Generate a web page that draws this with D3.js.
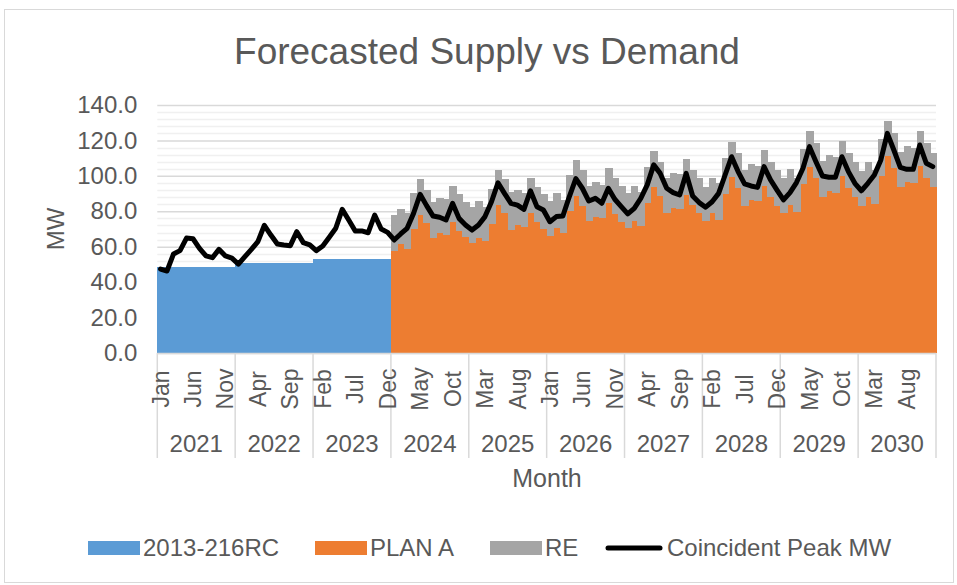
<!DOCTYPE html>
<html>
<head>
<meta charset="utf-8">
<script src="https://cdn.jsdelivr.net/npm/d3@7"></script>
<style>
  body { margin: 0; background: #fff; }
  text { font-family: "Liberation Sans", Arial, sans-serif; fill: #595959; }
</style>
</head>
<body>
<script>
const years = [2021, 2022, 2023, 2024, 2025, 2026, 2027, 2028, 2029, 2030]
const monthNames = ['Jan', 'Feb', 'Mar', 'Apr', 'May', 'Jun', 'Jul', 'Aug', 'Sep', 'Oct', 'Nov', 'Dec']
const yTicks = [0, 20, 40, 60, 80, 100, 120, 140]

// 2013-216RC supply, Jan 2021 - Dec 2023
const rcSupply = [
  48.3, 48.3, 48.3, 48.3, 48.3, 48.3, 48.3, 48.3, 48.3, 48.3, 48.3, 48.3,
  50.6, 50.6, 50.6, 50.6, 50.6, 50.6, 50.6, 50.6, 50.6, 50.6, 50.6, 50.6,
  53.1, 53.1, 53.1, 53.1, 53.1, 53.1, 53.1, 53.1, 53.1, 53.1, 53.1, 53.1
]
// PLAN A and RE, Jan 2024 - Dec 2030
const planA = [
  57.8, 61.5, 58.9, 70.0, 77.9, 73.2, 65.1, 67.5, 66.6, 73.8, 68.9, 65.3,
  61.9, 65.1, 63.2, 73.0, 83.5, 78.9, 69.4, 72.3, 71.3, 79.2, 74.1, 69.8,
  66.1, 70.4, 67.6, 80.3, 88.6, 83.0, 74.5, 77.0, 76.4, 84.5, 78.3, 74.1,
  70.4, 74.5, 71.7, 84.9, 93.9, 88.5, 78.9, 81.7, 81.1, 89.2, 83.6, 78.9,
  74.5, 78.9, 75.3, 89.8, 99.2, 93.0, 83.0, 86.6, 85.6, 94.3, 87.9, 83.0,
  78.9, 83.6, 79.8, 95.2, 105.2, 98.6, 88.3, 91.5, 90.1, 99.9, 93.0, 88.3,
  83.0, 88.3, 84.1, 99.9, 111.2, 104.3, 93.5, 96.7, 95.8, 105.6, 98.6, 93.5
]
const re = [
  20.1, 19.8, 20.0, 20.5, 20.2, 18.8, 20.3, 20.2, 20.1, 20.5, 20.7, 20.1,
  20.7, 20.7, 19.4, 19.5, 19.8, 19.2, 21.7, 19.7, 18.8, 19.8, 19.8, 19.8,
  19.9, 19.7, 18.6, 20.2, 20.4, 20.3, 20.0, 19.7, 18.5, 19.8, 20.3, 20.4,
  19.7, 20.0, 19.4, 20.3, 20.1, 19.5, 19.7, 20.1, 20.0, 20.2, 19.7, 19.7,
  19.4, 19.7, 20.9, 20.1, 20.1, 20.1, 20.5, 19.9, 19.8, 20.3, 20.1, 20.3,
  20.1, 20.1, 19.2, 19.8, 20.1, 20.1, 20.1, 20.3, 20.3, 19.8, 20.1, 19.7,
  19.9, 19.7, 19.2, 20.7, 19.8, 20.1, 20.2, 20.2, 20.1, 19.7, 20.1, 19.6
]
// Coincident Peak MW, Jan 2021 - Dec 2030
const peak = [
  47.4, 46.3, 55.9, 57.8, 64.9, 64.5, 59.1, 54.8, 53.8, 58.5, 54.8, 53.5,
  50.2, 54.4, 58.5, 62.9, 72.1, 66.6, 61.5, 61.0, 60.6, 68.5, 62.3, 61.0,
  57.8, 60.4, 65.3, 70.4, 81.1, 75.1, 68.9, 68.9, 67.9, 77.9, 70.0, 68.1,
  63.8, 67.2, 70.4, 78.9, 89.6, 83.2, 77.3, 76.6, 75.1, 84.5, 76.0, 72.3,
  69.4, 72.3, 77.0, 85.4, 96.1, 90.1, 84.5, 83.5, 81.1, 91.6, 82.6, 80.7,
  74.1, 77.0, 77.3, 88.3, 98.5, 93.0, 85.8, 87.3, 84.5, 93.0, 86.8, 82.6,
  78.5, 81.7, 87.3, 94.9, 106.2, 101.4, 93.0, 90.5, 89.2, 101.4, 88.6, 84.9,
  82.3, 85.4, 90.1, 100.5, 110.8, 102.4, 95.5, 94.3, 93.5, 105.2, 97.7, 92.0,
  86.4, 90.5, 96.2, 104.3, 116.5, 108.0, 99.9, 99.2, 99.2, 110.8, 102.4, 95.8,
  91.6, 95.8, 100.5, 109.0, 124.0, 114.6, 104.8, 103.7, 103.7, 117.4, 107.1, 105.2
]
const seriesNames = ['2013-216RC', 'PLAN A', 'RE', 'Coincident Peak MW']
const colors = { rc: '#5b9bd5', plan: '#ed7d31', re: '#a5a5a5', line: '#000000' }

const W = 957, H = 585
const plot = { left: 157.3, right: 936, top: 105, bottom: 353 }

const months = years.flatMap(y => monthNames.map(m => ({ year: y, month: m })))
const planStart = rcSupply.length
const rows = months.map((d, i) => ({
  key: d.year + '-' + d.month,
  year: d.year,
  month: d.month,
  rc: i < planStart ? rcSupply[i] : 0,
  plan: i >= planStart ? planA[i - planStart] : 0,
  re: i >= planStart ? re[i - planStart] : 0,
  peak: peak[i]
}))

const svg = d3.select('body').append('svg')
  .attr('width', W)
  .attr('height', H)

svg.append('rect')
  .attr('x', 4.5).attr('y', 9.5)
  .attr('width', 949).attr('height', 573)
  .attr('fill', '#fff')
  .attr('stroke', '#d9d9d9')

const x = d3.scaleBand()
  .domain(rows.map(d => d.key))
  .range([plot.left, plot.right])
  .padding(0)

const y = d3.scaleLinear()
  .domain([0, 140])
  .range([plot.bottom, plot.top])

// minor + major gridlines
const minor = d3.range(0, 141, 4).filter(v => v % 20 !== 0)
svg.append('g').selectAll('line').data(minor).enter().append('line')
  .attr('x1', plot.left).attr('x2', plot.right)
  .attr('y1', d => Math.round(y(d)) + 0.5).attr('y2', d => Math.round(y(d)) + 0.5)
  .attr('stroke', '#f0f0f0').attr('stroke-width', 1.5)

const yAxis = d3.axisLeft(y).tickValues(yTicks).tickFormat(d3.format('.1f')).tickSize(-(plot.right - plot.left)).tickPadding(20)
const gy = svg.append('g')
  .attr('transform', `translate(${plot.left},0)`)
  .call(yAxis)
gy.select('.domain').remove()
gy.selectAll('.tick line').attr('stroke', '#d9d9d9').attr('stroke-width', 1.5)
gy.selectAll('.tick text').attr('font-size', 24).attr('fill', '#595959')
  .attr('font-family', '"Liberation Sans", Arial, sans-serif')

// stacked bars
const bw = x.bandwidth()
const bars = svg.append('g').attr('shape-rendering', 'crispEdges')
bars.selectAll('.rc').data(rows.filter(d => d.rc > 0)).enter().append('rect')
  .attr('x', d => x(d.key)).attr('width', bw + 1)
  .attr('y', d => y(d.rc)).attr('height', d => y(0) - y(d.rc))
  .attr('fill', colors.rc)
bars.selectAll('.plan').data(rows.filter(d => d.plan > 0)).enter().append('rect')
  .attr('x', d => x(d.key)).attr('width', bw + 1)
  .attr('y', d => y(d.plan)).attr('height', d => y(0) - y(d.plan))
  .attr('fill', colors.plan)
bars.selectAll('.re').data(rows.filter(d => d.re > 0)).enter().append('rect')
  .attr('x', d => x(d.key)).attr('width', bw + 1)
  .attr('y', d => y(d.plan + d.re)).attr('height', d => y(d.plan) - y(d.plan + d.re))
  .attr('fill', colors.re)

// category axis: base line, year separators, month + year labels
svg.append('line')
  .attr('x1', plot.left).attr('x2', plot.right)
  .attr('y1', plot.bottom + 0.5).attr('y2', plot.bottom + 0.5)
  .attr('stroke', '#d9d9d9').attr('stroke-width', 1.5)

const yearEdges = years.map(yr => x(yr + '-Jan')).concat([plot.right])
svg.append('g').selectAll('line').data(yearEdges).enter().append('line')
  .attr('x1', d => d).attr('x2', d => d)
  .attr('y1', plot.bottom).attr('y2', 458)
  .attr('stroke', '#d9d9d9').attr('stroke-width', 1.5)

svg.append('g').selectAll('text').data(rows.filter((d, i) => i % 5 === 0)).enter().append('text')
  .attr('transform', d => `translate(${x(d.key) + bw / 2},389) rotate(-90)`)
  .attr('text-anchor', 'middle')
  .attr('dy', '0.35em')
  .attr('font-size', 23)
  .text(d => d.month)

svg.append('g').selectAll('text').data(years).enter().append('text')
  .attr('x', yr => x(yr + '-Jan') + bw * 6)
  .attr('y', 452)
  .attr('text-anchor', 'middle')
  .attr('font-size', 24)
  .text(yr => yr)

// peak line
const line = d3.line()
  .x(d => x(d.key) + bw / 2)
  .y(d => y(d.peak))
svg.append('path')
  .datum(rows)
  .attr('d', line)
  .attr('fill', 'none')
  .attr('stroke', colors.line)
  .attr('stroke-width', 5)
  .attr('stroke-linejoin', 'round')
  .attr('stroke-linecap', 'round')

// titles
svg.append('text')
  .attr('x', 487).attr('y', 64)
  .attr('text-anchor', 'middle')
  .attr('font-size', 37)
  .text('Forecasted Supply vs Demand')

svg.append('text')
  .attr('transform', 'translate(64,229) rotate(-90)')
  .attr('text-anchor', 'middle')
  .attr('font-size', 24)
  .text('MW')

svg.append('text')
  .attr('x', 547).attr('y', 487)
  .attr('text-anchor', 'middle')
  .attr('font-size', 25)
  .text('Month')

// legend
const legendItems = [
  { name: seriesNames[0], color: colors.rc, x: 88, type: 'box' },
  { name: seriesNames[1], color: colors.plan, x: 315, type: 'box' },
  { name: seriesNames[2], color: colors.re, x: 490, type: 'box' },
  { name: seriesNames[3], color: colors.line, x: 606, type: 'line' }
]
const lg = svg.append('g').selectAll('g').data(legendItems).enter().append('g')
  .attr('transform', d => `translate(${d.x},548)`)
lg.filter(d => d.type === 'box').append('rect')
  .attr('x', 0).attr('y', -7).attr('width', 52).attr('height', 14)
  .attr('fill', d => d.color)
lg.filter(d => d.type === 'line').append('line')
  .attr('x1', 2).attr('x2', 54).attr('y1', 0).attr('y2', 0)
  .attr('stroke', d => d.color).attr('stroke-width', 5).attr('stroke-linecap', 'round')
lg.append('text')
  .attr('x', d => d.type === 'line' ? 61 : 55)
  .attr('y', 0)
  .attr('dy', '0.35em')
  .attr('font-size', 24)
  .text(d => d.name)
</script>
</body>
</html>
